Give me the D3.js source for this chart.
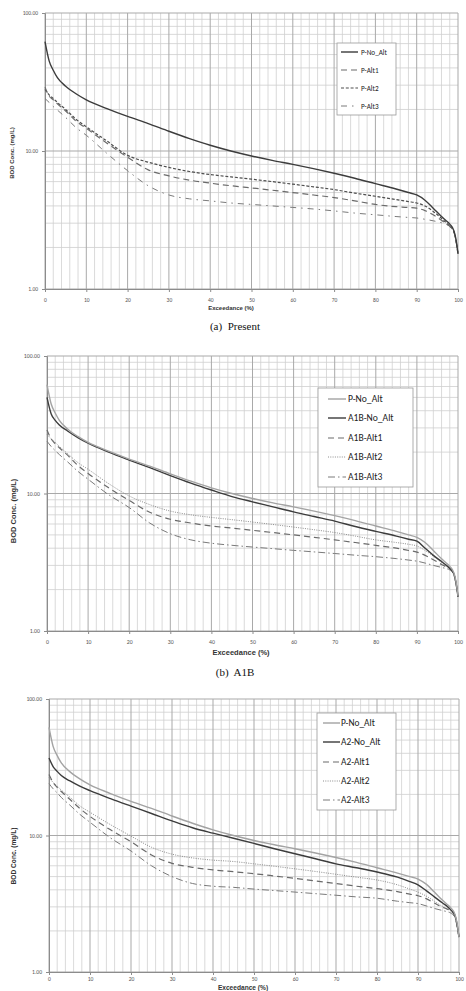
<!DOCTYPE html>
<html>
<head>
<meta charset="utf-8">
<script src="https://cdn.jsdelivr.net/npm/d3@7"></script>
<style>
  body { margin: 0; background: #fff; }
  svg { display: block; }
</style>
</head>
<body>
<svg id="chart" width="466" height="991"></svg>
<script>
// exceedance (%) sample points shared by all curves
const exceedance = [0, 1, 2, 3, 5, 7.5, 10, 15, 20, 25, 30, 35, 40, 45, 50, 55, 60, 65, 70, 75, 80, 85, 88, 90, 92, 94, 96, 97, 98, 99, 99.5, 100];

// BOD conc. (mg/L)
const pNoAlt  = [62, 45, 38.5, 34, 29.5, 26, 23.5, 20.3, 17.8, 15.8, 13.9, 12.3, 11.0, 10.0, 9.2, 8.55, 8.0, 7.45, 6.9, 6.35, 5.8, 5.3, 5.0, 4.8, 4.4, 3.85, 3.35, 3.15, 2.95, 2.65, 2.3, 1.8];
const pAlt1   = [29, 25, 23.5, 22, 19.5, 16.5, 14.6, 11.4, 9.0, 7.3, 6.6, 6.15, 5.85, 5.6, 5.4, 5.2, 5.0, 4.8, 4.6, 4.35, 4.1, 3.95, 3.9, 3.85, 3.7, 3.45, 3.15, 3.0, 2.85, 2.6, 2.25, 1.8];
const pAlt2   = [28, 25.5, 24, 22.5, 20, 17, 15.0, 11.8, 9.3, 8.3, 7.6, 7.1, 6.75, 6.5, 6.25, 6.0, 5.75, 5.5, 5.25, 4.95, 4.7, 4.45, 4.3, 4.2, 4.0, 3.65, 3.25, 3.05, 2.85, 2.6, 2.25, 1.8];
const pAlt3   = [24, 22.5, 21, 19.8, 17.5, 14.8, 13.0, 9.6, 7.2, 5.6, 4.8, 4.5, 4.35, 4.2, 4.1, 4.0, 3.9, 3.8, 3.68, 3.55, 3.45, 3.35, 3.3, 3.27, 3.2, 3.12, 3.02, 2.95, 2.85, 2.6, 2.25, 1.8];

const a1bNoAlt = [50, 38, 34, 31.5, 28.5, 25.5, 23.2, 20.0, 17.5, 15.4, 13.5, 11.9, 10.6, 9.5, 8.7, 8.0, 7.35, 6.8, 6.3, 5.75, 5.3, 4.9, 4.65, 4.5, 4.0, 3.55, 3.2, 3.03, 2.85, 2.6, 2.25, 1.78];
const a1bAlt1  = [29, 25, 23, 21.5, 19, 16, 14, 11, 8.9, 7.3, 6.5, 6.1, 5.8, 5.6, 5.4, 5.2, 5.0, 4.8, 4.6, 4.4, 4.2, 4.0, 3.85, 3.75, 3.55, 3.3, 3.05, 2.95, 2.85, 2.6, 2.25, 1.78];
const a1bAlt2  = [27, 25, 23.5, 22, 19.5, 16.8, 15, 11.8, 9.6, 8.3, 7.45, 7.0, 6.7, 6.45, 6.2, 5.95, 5.7, 5.45, 5.2, 4.9, 4.6, 4.4, 4.27, 4.15, 3.85, 3.5, 3.15, 3.0, 2.85, 2.6, 2.25, 1.78];
const a1bAlt3  = [24, 22, 20.5, 19.2, 17, 14.5, 12.7, 9.8, 7.9, 6.1, 5.1, 4.6, 4.35, 4.2, 4.08, 3.97, 3.86, 3.76, 3.66, 3.56, 3.47, 3.36, 3.28, 3.22, 3.12, 3.0, 2.9, 2.85, 2.78, 2.55, 2.2, 1.78];

const a2NoAlt = [37, 32, 29.5, 27.5, 25.2, 23, 21.3, 18.6, 16.4, 14.5, 12.8, 11.4, 10.4, 9.55, 8.75, 8.0, 7.35, 6.75, 6.2, 5.8, 5.4, 4.95, 4.6, 4.35, 3.95, 3.55, 3.2, 3.05, 2.85, 2.6, 2.25, 1.8];
const a2Alt1  = [28, 24.5, 22.5, 21, 18.5, 15.8, 13.8, 11, 9.0, 7.2, 6.25, 5.85, 5.6, 5.43, 5.25, 5.05, 4.85, 4.65, 4.45, 4.25, 4.08, 3.88, 3.72, 3.62, 3.45, 3.2, 2.98, 2.9, 2.8, 2.55, 2.2, 1.8];
const a2Alt2  = [26.5, 24.5, 23, 21.5, 19.2, 16.5, 14.8, 12.0, 9.9, 8.2, 7.3, 6.85, 6.6, 6.45, 6.2, 5.95, 5.7, 5.45, 5.2, 4.95, 4.72, 4.35, 4.05, 3.85, 3.6, 3.3, 3.02, 2.92, 2.8, 2.55, 2.2, 1.8];
const a2Alt3  = [24, 22, 20.5, 19, 16.8, 14.3, 12.5, 9.6, 7.7, 6.0, 5.0, 4.45, 4.25, 4.17, 4.05, 3.95, 3.85, 3.75, 3.65, 3.55, 3.47, 3.3, 3.22, 3.17, 3.05, 2.92, 2.82, 2.77, 2.7, 2.5, 2.2, 1.8];

const xTicks = [0, 10, 20, 30, 40, 50, 60, 70, 80, 90, 100];
const yTicks = [1, 10, 100];

const styles = {
  solidDark: { stroke: "#3c3c3c", width: 1.4, dash: null },
  solidGray: { stroke: "#a3a3a3", width: 1.4, dash: null },
  longDash:  { stroke: "#6a6a6a", width: 1.2, dash: "6,4" },
  shortDash: { stroke: "#4e4e4e", width: 1.2, dash: "3,1.8" },
  dotted:    { stroke: "#808080", width: 0.9, dash: "1,1.3" },
  dashDot:   { stroke: "#7a7a7a", width: 1.0, dash: "7,3,1.5,3" }
};

const panels = [
  {
    left: 45, right: 458, top: 13, bottom: 289, tickFont: 5.5, titleFont: 6, legFont: 7.2,
    xLabelY: 300, xTitleX: 231, xTitleY: 310, yTitleX: 12, yTitleY: 153,
    caption: "(a)  Present", capY: 330,
    legend: { x: 337, y: 43, w: 59, h: 72, rowY: [52, 70, 88, 106], sx0: 341, sx1: 358, tx: 361 },
    series: [
      { name: "P-No_Alt", values: pNoAlt, style: styles.solidDark },
      { name: "P-Alt1", values: pAlt1, style: styles.longDash },
      { name: "P-Alt2", values: pAlt2, style: styles.shortDash },
      { name: "P-Alt3", values: pAlt3, style: { ...styles.dashDot, dash: "6,5,1.5,5" } }
    ]
  },
  {
    left: 47, right: 458, top: 356, bottom: 631, tickFont: 5.8, titleFont: 7.5, legFont: 9.6,
    xLabelY: 642, xTitleX: 241, xTitleY: 655, yTitleX: 13, yTitleY: 511,
    caption: "(b)  A1B", capY: 676,
    legend: { x: 318, y: 388, w: 95, h: 99, rowY: [399, 418, 438, 457, 477], sx0: 328, sx1: 346, tx: 348 },
    series: [
      { name: "P-No_Alt", values: pNoAlt, style: styles.solidGray },
      { name: "A1B-No_Alt", values: a1bNoAlt, style: styles.solidDark },
      { name: "A1B-Alt1", values: a1bAlt1, style: styles.longDash },
      { name: "A1B-Alt2", values: a1bAlt2, style: styles.dotted },
      { name: "A1B-Alt3", values: a1bAlt3, style: styles.dashDot }
    ]
  },
  {
    left: 49, right: 459, top: 699, bottom: 972, tickFont: 5.6, titleFont: 6.6, legFont: 9.4,
    xLabelY: 979.5, xTitleX: 243, xTitleY: 990, yTitleX: 14, yTitleY: 856,
    caption: null, capY: 0,
    legend: { x: 317, y: 713, w: 79, h: 97, rowY: [723, 742, 762, 781, 800], sx0: 323, sx1: 340, tx: 341 },
    series: [
      { name: "P-No_Alt", values: pNoAlt, style: styles.solidGray },
      { name: "A2-No_Alt", values: a2NoAlt, style: styles.solidDark },
      { name: "A2-Alt1", values: a2Alt1, style: styles.longDash },
      { name: "A2-Alt2", values: a2Alt2, style: styles.dotted },
      { name: "A2-Alt3", values: a2Alt3, style: styles.dashDot }
    ]
  }
];

const svg = d3.select("#chart");

panels.forEach(p => {
  const x = d3.scaleLinear().domain([0, 100]).range([p.left, p.right]);
  const y = d3.scaleLog().domain([1, 100]).range([p.bottom, p.top]);
  const g = svg.append("g");

  // minor grid
  const minorX = d3.range(0, 101, 2).filter(v => v % 10 !== 0);
  g.selectAll(".vminor").data(minorX).enter().append("line")
    .attr("x1", d => x(d)).attr("x2", d => x(d))
    .attr("y1", p.top).attr("y2", p.bottom)
    .attr("stroke", "#d0d0d0").attr("stroke-width", 0.8);

  const minorY = [];
  [1, 10].forEach(dec => d3.range(2, 10).forEach(k => minorY.push(dec * k)));
  g.selectAll(".hminor").data(minorY).enter().append("line")
    .attr("x1", p.left).attr("x2", p.right)
    .attr("y1", d => y(d)).attr("y2", d => y(d))
    .attr("stroke", "#cfcfcf").attr("stroke-width", 0.8);

  // major grid
  g.selectAll(".vmajor").data(xTicks).enter().append("line")
    .attr("x1", d => x(d)).attr("x2", d => x(d))
    .attr("y1", p.top).attr("y2", p.bottom)
    .attr("stroke", "#a9a9a9").attr("stroke-width", 1);
  g.selectAll(".hmajor").data(yTicks).enter().append("line")
    .attr("x1", p.left).attr("x2", p.right)
    .attr("y1", d => y(d)).attr("y2", d => y(d))
    .attr("stroke", "#a9a9a9").attr("stroke-width", 1);

  // axes
  const xAxis = g.append("g")
    .attr("transform", `translate(0,${p.bottom})`)
    .call(d3.axisBottom(x).tickValues(xTicks).tickSize(3).tickPadding(p.xLabelY - p.bottom - 5).tickFormat(d3.format("d")));
  const yAxis = g.append("g")
    .attr("transform", `translate(${p.left},0)`)
    .call(d3.axisLeft(y).tickValues(yTicks).tickSize(3).tickPadding(4).tickFormat(d3.format(".2f")));
  [xAxis, yAxis].forEach(a => {
    a.select(".domain").attr("stroke", "#8c8c8c");
    a.selectAll(".tick line").attr("stroke", "#8c8c8c");
    a.selectAll("text").attr("fill", "#555").style("font-family", "Carlito, 'Liberation Sans', sans-serif")
      .style("font-size", p.tickFont + "px");
  });

  // curves
  const line = d3.line().x((d, i) => x(exceedance[i])).y(d => y(d)).curve(d3.curveMonotoneX);
  p.series.slice().reverse().forEach(s => {
    g.append("path")
      .datum(s.values)
      .attr("d", line)
      .attr("fill", "none")
      .attr("stroke", s.style.stroke)
      .attr("stroke-width", s.style.width)
      .attr("stroke-dasharray", s.style.dash);
  });

  // axis titles
  g.append("text")
    .attr("x", p.xTitleX).attr("y", p.xTitleY)
    .attr("text-anchor", "middle")
    .style("font-family", "'Liberation Sans', sans-serif")
    .style("font-size", p.titleFont + "px").style("font-weight", "bold").attr("fill", "#333")
    .text("Exceedance (%)");
  g.append("text")
    .attr("transform", `translate(${p.yTitleX},${p.yTitleY}) rotate(-90)`)
    .attr("text-anchor", "middle").attr("dy", "0.35em")
    .style("font-family", "'Liberation Sans', sans-serif")
    .style("font-size", p.titleFont + "px").style("font-weight", "bold").attr("fill", "#333")
    .text("BOD Conc. (mg/L)");

  // legend
  const L = p.legend;
  const leg = g.append("g");
  leg.append("rect")
    .attr("x", L.x).attr("y", L.y).attr("width", L.w).attr("height", L.h)
    .attr("fill", "#fff").attr("stroke", "#9a9a9a").attr("stroke-width", 0.8);
  p.series.forEach((s, i) => {
    leg.append("line")
      .attr("x1", L.sx0).attr("x2", L.sx1)
      .attr("y1", L.rowY[i]).attr("y2", L.rowY[i])
      .attr("stroke", s.style.stroke).attr("stroke-width", s.style.width)
      .attr("stroke-dasharray", s.style.dash);
    leg.append("text")
      .attr("x", L.tx).attr("y", L.rowY[i]).attr("dy", "0.35em")
      .style("font-family", "Carlito, 'Liberation Sans', sans-serif")
      .style("font-size", p.legFont + "px").attr("fill", "#222")
      .text(s.name);
  });

  if (p.caption) {
    svg.append("text")
      .attr("x", 235).attr("y", p.capY)
      .attr("text-anchor", "middle")
      .style("font-family", "'Liberation Serif', 'Times New Roman', serif")
      .style("font-size", "11px").attr("fill", "#111")
      .style("white-space", "pre")
      .text(p.caption);
  }
});
</script>
</body>
</html>
